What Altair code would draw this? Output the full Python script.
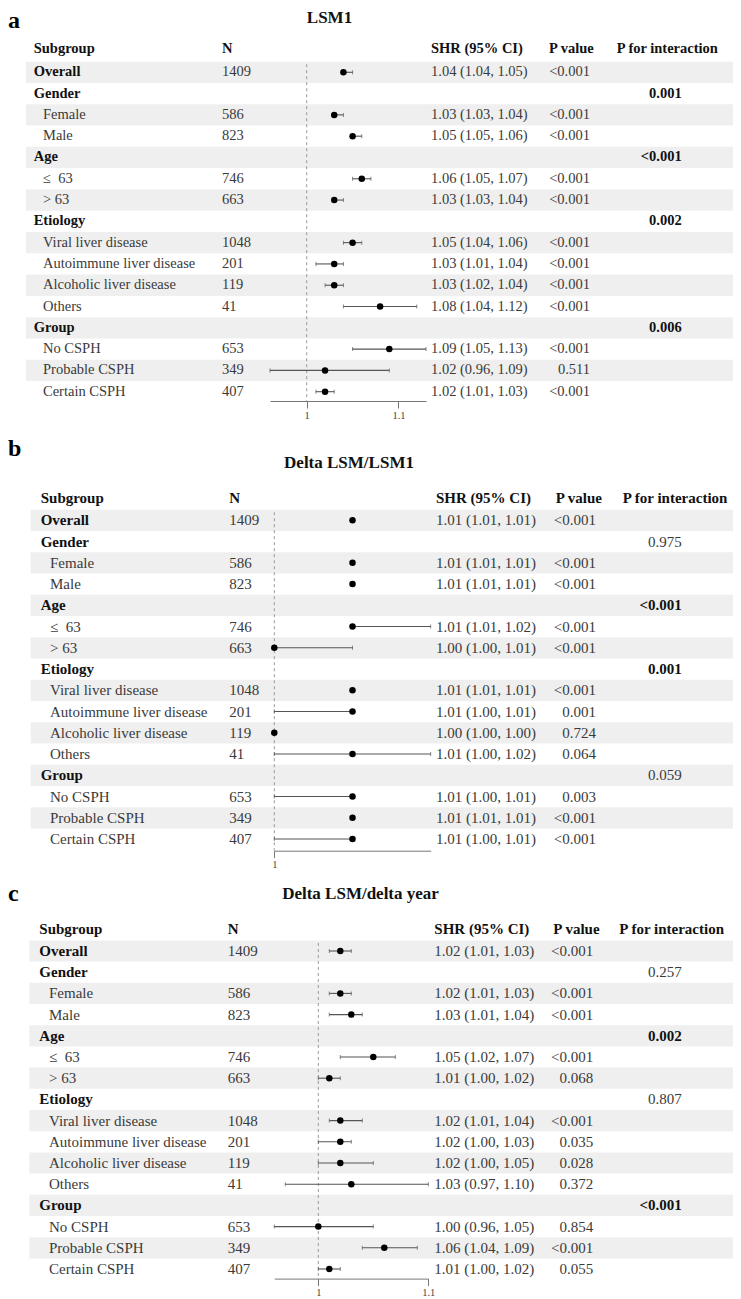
import altair as alt
import pandas as pd

FONT = "Liberation Serif"

# ---------------- data ----------------
subgroups = ["Overall", "Gender", "Female", "Male", "Age", "\u2264\u00a0\u00a063", "\u2009>\u00a063",
             "Etiology", "Viral liver disease", "Autoimmune liver disease",
             "Alcoholic liver disease", "Others", "Group", "No CSPH",
             "Probable CSPH", "Certain CSPH"]
is_category = [True, True, False, False, True, False, False, True,
               False, False, False, False, True, False, False, False]
n_values = ["1409", "", "586", "823", "", "746", "663", "", "1048", "201",
            "119", "41", "", "653", "349", "407"]
header_labels = ["Subgroup", "N", "SHR (95% CI)", "P value", "P for interaction"]

# Panel a: LSM1
a_est = [1.04, None, 1.03, 1.05, None, 1.06, 1.03, None, 1.05, 1.03, 1.03, 1.08, None, 1.09, 1.02, 1.02]
a_lo = [1.04, None, 1.03, 1.05, None, 1.05, 1.03, None, 1.04, 1.01, 1.02, 1.04, None, 1.05, 0.96, 1.01]
a_hi = [1.05, None, 1.04, 1.06, None, 1.07, 1.04, None, 1.06, 1.04, 1.04, 1.12, None, 1.13, 1.09, 1.03]
a_p = ["<0.001", "", "<0.001", "<0.001", "", "<0.001", "<0.001", "", "<0.001", "<0.001",
       "<0.001", "<0.001", "", "<0.001", "0.511", "<0.001"]
a_pint = ["", "0.001", "", "", "<0.001", "", "", "0.002", "", "", "", "", "0.006", "", "", ""]
a_pint_bold = [False, True, False, False, True, False, False, True, False, False, False, False, True, False, False, False]

# Panel b: Delta LSM/LSM1
b_est = [1.01, None, 1.01, 1.01, None, 1.01, 1.00, None, 1.01, 1.01, 1.00, 1.01, None, 1.01, 1.01, 1.01]
b_lo = [1.01, None, 1.01, 1.01, None, 1.01, 1.00, None, 1.01, 1.00, 1.00, 1.00, None, 1.00, 1.01, 1.00]
b_hi = [1.01, None, 1.01, 1.01, None, 1.02, 1.01, None, 1.01, 1.01, 1.00, 1.02, None, 1.01, 1.01, 1.01]
b_p = ["<0.001", "", "<0.001", "<0.001", "", "<0.001", "<0.001", "", "<0.001", "0.001",
       "0.724", "0.064", "", "0.003", "<0.001", "<0.001"]
b_pint = ["", "0.975", "", "", "<0.001", "", "", "0.001", "", "", "", "", "0.059", "", "", ""]
b_pint_bold = [False, False, False, False, True, False, False, True, False, False, False, False, False, False, False, False]

# Panel c: Delta LSM/delta year
c_est = [1.02, None, 1.02, 1.03, None, 1.05, 1.01, None, 1.02, 1.02, 1.02, 1.03, None, 1.00, 1.06, 1.01]
c_lo = [1.01, None, 1.01, 1.01, None, 1.02, 1.00, None, 1.01, 1.00, 1.00, 0.97, None, 0.96, 1.04, 1.00]
c_hi = [1.03, None, 1.03, 1.04, None, 1.07, 1.02, None, 1.04, 1.03, 1.05, 1.10, None, 1.05, 1.09, 1.02]
c_p = ["<0.001", "", "<0.001", "<0.001", "", "<0.001", "0.068", "", "<0.001", "0.035",
       "0.028", "0.372", "", "0.854", "<0.001", "0.055"]
c_pint = ["", "0.257", "", "", "0.002", "", "", "0.807", "", "", "", "", "<0.001", "", "", ""]
c_pint_bold = [False, False, False, False, True, False, False, False, False, False, False, False, True, False, False, False]

# ---------------- layout (pixels inside each panel) ----------------
W = 725
layouts = {
    "a": dict(label="a", title="LSM1", est=a_est, lo=a_lo, hi=a_hi, p=a_p, pint=a_pint, pbold=a_pint_bold,
              ticks=[1, 1.1], height=393, y_first=64.3, y_last=383.7, header_r=-0.094,
              xrange=[262, 418], fs=14.5, shade=[18, W], x_sub=25.7, x_ind=35, x_n=214,
              x_shr=423, x_ph=541, x_pv=582, x_ih=608.7, x_iv=673.7,
              title_x=321.5, title_y=10, label_y=13),
    "b": dict(label="b", title="Delta LSM/LSM1", est=b_est, lo=b_lo, hi=b_hi, p=b_p, pint=b_pint, pbold=b_pint_bold,
              ticks=[1], height=419.7, y_first=89.3, y_last=408, header_r=-0.064,
              xrange=[266.3, 422.7], fs=15, shade=[22.7, W], x_sub=32.7, x_ind=42, x_n=221.3,
              x_shr=428, x_ph=547.7, x_pv=588, x_ih=614.7, x_iv=673.7,
              title_x=341, title_y=32, label_y=18),
    "c": dict(label="c", title="Delta LSM/delta year", est=c_est, lo=c_lo, hi=c_hi, p=c_p, pint=c_pint, pbold=c_pint_bold,
              ticks=[1, 1.1], height=397.6, y_first=70, y_last=388, header_r=-0.057,
              xrange=[266.3, 420.3], fs=15, shade=[21.3, W], x_sub=31.3, x_ind=41, x_n=219.7,
              x_shr=426.3, x_ph=545.3, x_pv=585.3, x_ih=611.3, x_iv=673.7,
              title_x=352.5, title_y=13, label_y=13),
}

TXT = "#3a3a3a"
BLK = "#111111"


def make_panel(L):
    rows = list(range(1, len(subgroups) + 1))
    shr = [("" if e is None else f"{e:.2f} ({l:.2f}, {h:.2f})") for e, l, h in zip(L["est"], L["lo"], L["hi"])]
    df = pd.DataFrame({"r": rows, "sub": subgroups, "cat": is_category, "n": n_values,
                       "est": L["est"], "lo": L["lo"], "hi": L["hi"], "shr": shr,
                       "p": L["p"], "pint": L["pint"], "pbold": L["pbold"]})
    lo_vals = [v for v in L["lo"] if v is not None]
    hi_vals = [v for v in L["hi"] if v is not None]
    xscale = alt.Scale(domain=[min(lo_vals), max(hi_vals)], range=L["xrange"], nice=False, zero=False)
    yscale = alt.Scale(domain=[1, len(rows)], range=[L["y_first"], L["y_last"]], nice=False, zero=False)
    xaxis = alt.Axis(values=L["ticks"], format="~g", title=None, grid=False, domainColor="#777",
                     tickColor="#777", tickSize=7, labelPadding=2, labelFont=FONT, labelFontSize=10.5,
                     labelColor="#444", minExtent=20, maxExtent=20, labelFlush=False)
    Y = alt.Y("r:Q", scale=yscale, axis=None)

    shade_df = df[df["r"] % 2 == 1].copy()
    shade_df["r0"] = shade_df["r"] - 0.5
    shade_df["r1"] = shade_df["r"] + 0.5
    shade = alt.Chart(shade_df).mark_rect(color="#efefef").encode(
        y=alt.Y("r0:Q", scale=yscale, axis=None), y2="r1:Q",
        x=alt.value(L["shade"][0]), x2=alt.value(L["shade"][1]))

    ref = alt.Chart(pd.DataFrame({"x": [1.0], "r": [0.62]})).mark_rule(
        color="#999", strokeDash=[3, 3], strokeWidth=1).encode(
        x=alt.X("x:Q", scale=xscale, axis=xaxis),
        y=alt.Y("r:Q", scale=yscale, axis=None), y2=alt.value(L["height"]))

    dd = df[df["est"].notna()]
    ci = alt.Chart(dd).mark_rule(color="#555", strokeWidth=1.1).encode(
        x=alt.X("lo:Q", scale=xscale, axis=xaxis), x2="hi:Q", y=Y)
    caps_df = pd.concat([dd[["r"]].assign(v=dd["lo"]), dd[["r"]].assign(v=dd["hi"])])
    caps = alt.Chart(caps_df).mark_tick(orient="vertical", size=4, thickness=1, color="#555").encode(
        x=alt.X("v:Q", scale=xscale, axis=xaxis), y=Y)
    pts = alt.Chart(dd).mark_circle(size=42, color="black", opacity=1).encode(
        x=alt.X("est:Q", scale=xscale, axis=xaxis), y=Y)

    def txt(data, field, x, align="left", bold=False, color=TXT, size=None):
        return alt.Chart(data).mark_text(
            align=align, baseline="middle", font=FONT, fontSize=size or L["fs"],
            fontWeight="bold" if bold else "normal", color=color, clip=True).encode(
            x=alt.value(x), y=Y, text=f"{field}:N")

    layers = [shade, ref, ci, caps, pts]
    layers.append(txt(df[df["cat"]], "sub", L["x_sub"], bold=True, color=BLK))
    layers.append(txt(df[~df["cat"]], "sub", L["x_ind"]))
    layers.append(txt(df[df["n"] != ""], "n", L["x_n"]))
    layers.append(txt(df[df["shr"] != ""], "shr", L["x_shr"]))
    layers.append(txt(df[df["p"] != ""], "p", L["x_pv"], align="right"))
    layers.append(txt(df[(df["pint"] != "") & df["pbold"]], "pint", L["x_iv"], align="right", bold=True, color=BLK))
    layers.append(txt(df[(df["pint"] != "") & ~df["pbold"]], "pint", L["x_iv"], align="right"))

    hx = [L["x_sub"], L["x_n"], L["x_shr"], L["x_ph"], L["x_ih"]]
    for lab, x in zip(header_labels, hx):
        hdf = pd.DataFrame({"r": [L["header_r"]], "t": [lab]})
        layers.append(txt(hdf, "t", x, bold=True, color=BLK))

    title = alt.Chart(pd.DataFrame({"t": [L["title"]]})).mark_text(
        align="center", baseline="middle", font=FONT, fontSize=17, fontWeight="bold",
        color=BLK).encode(x=alt.value(L["title_x"]), y=alt.value(L["title_y"]), text="t:N")
    label = alt.Chart(pd.DataFrame({"t": [L["label"]]})).mark_text(
        align="left", baseline="middle", font=FONT, fontSize=24, fontWeight="bold",
        color="#000").encode(x=alt.value(0), y=alt.value(L["label_y"]), text="t:N")
    layers += [title, label]

    return alt.layer(*layers).properties(width=W, height=L["height"])


chart = alt.vconcat(make_panel(layouts["a"]), make_panel(layouts["b"]), make_panel(layouts["c"]),
                    spacing=30, bounds="flush", padding=0).configure_view(stroke=None)

chart.save("out.html", embed_options={"renderer": "svg", "actions": False})
